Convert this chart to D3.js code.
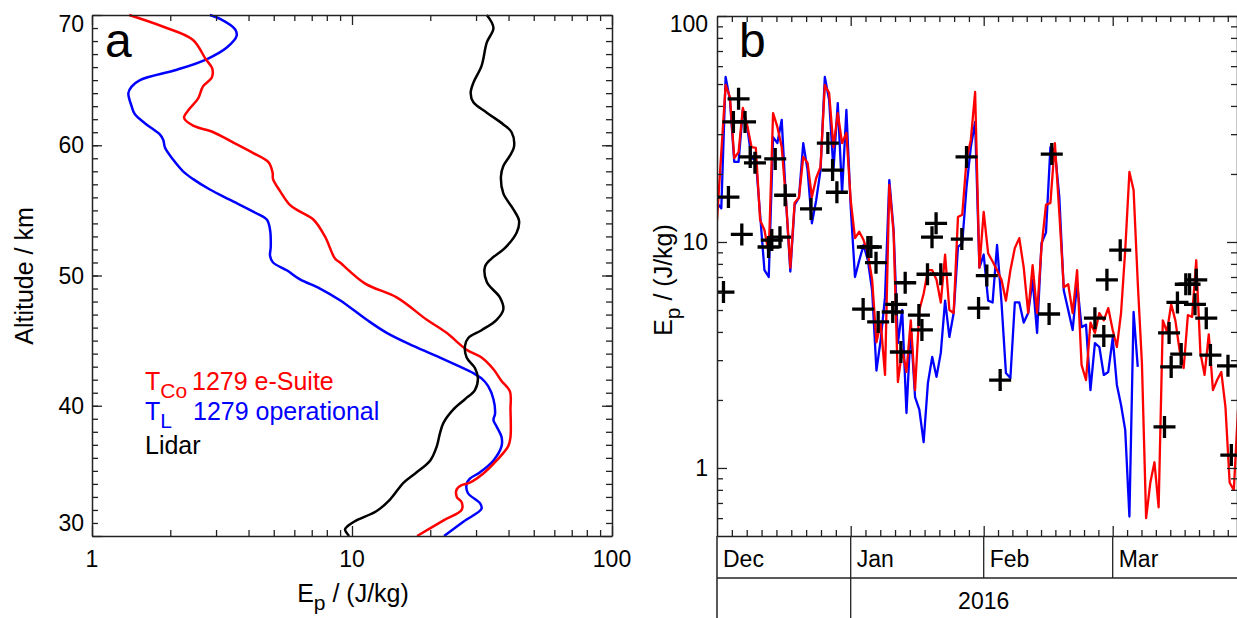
<!DOCTYPE html>
<html>
<head>
<meta charset="utf-8">
<script src="https://cdn.jsdelivr.net/npm/d3@7"></script>
<style>
body { margin: 0; background: #fff; }
svg { display: block; }
text { font-family: 'Liberation Sans', Arial, sans-serif; fill: #000; }
</style>
</head>
<body>
<svg width="1237" height="618"></svg>
<script>
// ---- panel a: profiles (altitude km, Ep J/kg)
const redAlt = [70, 69.1, 68.1, 66.6, 65.9, 65.2, 64.5, 63.6, 62.7, 62.1, 61.5, 61.0, 60.2, 59.4, 58.7, 57.9, 57.4, 56.5, 55.4, 54.9, 54.3, 53.0, 51.3, 51.0, 49.4, 48.3, 46.6, 45.6, 44.3, 43.7, 42.8, 41.9, 41.1, 39.7, 37.6, 36.9, 35.8, 34.8, 34.1, 33.9, 33.6, 33.0, 32.6, 32.0, 31.2, 30.0]
const redEpA = [1.39, 1.88, 2.44, 2.74, 2.90, 2.89, 2.67, 2.56, 2.35, 2.26, 2.45, 2.93, 3.50, 4.17, 4.77, 4.95, 4.97, 5.28, 5.78, 6.31, 7.10, 7.87, 8.60, 8.99, 11.2, 14.9, 19.4, 23.1, 27.6, 31.5, 35.0, 37.6, 40.5, 40.7, 40.7, 39.9, 36.0, 32.0, 28.4, 26.4, 25.3, 25.3, 26.4, 26.4, 22.5, 17.8]
const blueAlt = [70, 69.7, 68.9, 68.4, 67.5, 66.6, 65.8, 65.0, 64.5, 64.0, 63.0, 62.4, 61.6, 60.8, 60.4, 59.8, 58.9, 58.0, 57.4, 56.6, 55.8, 54.9, 54.3, 53.5, 52.2, 51.5, 51.0, 50.4, 49.7, 49.0, 48.1, 46.6, 45.6, 44.6, 43.7, 43.0, 42.5, 42.1, 41.5, 40.5, 39.4, 38.9, 38.4, 37.6, 36.9, 35.8, 34.9, 34.4, 34.0, 33.3, 32.5, 32.1, 31.1, 30.0]
const blueEpA = [2.84, 3.11, 3.55, 3.60, 3.30, 2.76, 2.12, 1.53, 1.42, 1.38, 1.42, 1.46, 1.62, 1.83, 1.88, 1.91, 2.05, 2.24, 2.45, 2.84, 3.40, 4.17, 4.70, 4.84, 4.87, 4.84, 4.97, 5.61, 6.31, 7.53, 8.99, 11.4, 13.6, 17.2, 21.8, 26.0, 29.3, 31.5, 33.4, 35.0, 35.5, 35.0, 36.0, 37.6, 37.6, 35.0, 31.1, 28.4, 27.6, 27.9, 31.1, 31.5, 26.8, 22.6]
const lidarAlt = [70, 69.0, 67.9, 66.1, 64.8, 64.0, 63.3, 62.5, 61.6, 61.0, 59.9, 59.2, 58.4, 57.6, 56.3, 55.1, 54.2, 53.3, 52.1, 51.3, 50.7, 49.5, 48.3, 47.4, 46.6, 45.8, 45.2, 44.6, 43.7, 42.9, 42.1, 41.2, 40.5, 39.7, 38.7, 37.9, 36.9, 35.8, 34.8, 34.1, 32.8, 31.9, 31.2, 30.7, 30.5, 30.0]
const lidarEpA = [33.0, 35.0, 33.0, 31.5, 29.3, 28.6, 29.3, 33.0, 38.2, 41.1, 42.0, 40.5, 38.2, 37.4, 38.2, 41.7, 43.9, 43.0, 38.7, 34.4, 32.5, 33.0, 37.1, 38.2, 36.0, 31.5, 28.0, 27.2, 27.6, 29.7, 30.5, 29.7, 27.2, 24.5, 22.5, 21.8, 21.2, 20.0, 17.5, 15.8, 14.0, 12.4, 10.4, 9.55, 9.4, 9.75]
const altTicks = [30, 40, 50, 60, 70]
const epTicksA = [1, 10, 100]

// ---- panel b: daily series from 1 Dec 2015
const redEp = [12.5, 25, 49.5, 43.8, 23.5, 25.0, 39.2, 32.9, 26.3, 26.1,
  12.5, 11.3, 8.9, 37.2, 32.3, 26.3, 15.3, 7.7, 14.9, 15.7,
  23.8, 22.4, 15.8, 19.2, 21.5, 49.5, 45.6, 26.3, 37.2, 27.4,
  30.4, 15.3, 10.4, 11.1, 10.2, 8.9, 6.8, 3.6, 4.4, 2.58,
  17.9, 11.0, 2.4, 3.33, 2.66, 4.5, 2.21, 5.0, 5.9, 7.5,
  7.5, 6.8, 5.4, 8.8, 5.0, 4.85, 12.9, 13.2, 23.1, 28.3,
  46.1, 7.7, 13.6, 8.9, 8.2, 7.5, 6.8, 5.5, 7.5, 9.4,
  10.4, 7.7, 4.85, 7.9, 4.85, 9.5, 14.6, 14.9, 27.4, 13.4,
  6.3, 6.5, 4.85, 7.5, 2.86, 2.45, 4.4, 3.96, 4.85, 4.5,
  5.1, 4.08, 3.43, 4.85, 9.2, 20.4, 17.0, 6.6, 2.9, 0.60,
  0.86, 1.06, 0.67, 4.5, 4.0, 5.3, 4.5, 3.33, 2.77, 4.75,
  4.66, 8.3, 3.23, 2.58, 3.9, 2.21, 2.45, 2.66, 1.86, 0.86,
  0.80, 1.81]
const blueEp = [14.9, 14.1, 53.7, 42.5, 22.6, 22.6, 38.4, 32.3, 23.5, 23.1,
  13.2, 7.5, 7.0, 29.1, 27.4, 34.7, 15.3, 7.4, 14.6, 15.7,
  27.4, 20.8, 12.1, 15.3, 20.8, 53.7, 42.5, 20.8, 41.2, 16.5,
  38.4, 14.3, 7.0, 8.3, 9.7, 8.3, 6.1, 2.7, 3.7, 5.7,
  18.8, 11.3, 3.57, 5.0, 1.75, 4.2, 2.06, 1.81, 1.30, 2.38,
  3.1, 2.53, 3.23, 5.5, 3.8, 4.85, 9.5, 9.9, 17.5, 26.3,
  34.0, 7.7, 8.8, 5.5, 5.4, 9.7, 5.4, 2.63, 2.5, 5.4,
  5.4, 4.4, 4.85, 6.8, 3.96, 9.9, 11.0, 26.3, 25.5, 15.8,
  6.1, 5.0, 4.08, 6.6, 4.2, 4.3, 2.21, 3.57, 3.43, 2.58,
  2.66, 3.76, 2.33, 1.9, 1.47, 0.61, 4.9, 2.8]
// lidar nights, days since 1 Dec 2015
const lidarDay = [1.5, 2.65, 3.8, 5.0, 6.5, 5.75, 7.7, 8.8, 11.95, 12.7, 14.6, 13.5, 15.8, 21.8, 25.7, 26.8, 27.8,
  35.0, 35.7, 36.9, 33.9, 37.4, 40.8, 41.6, 42.7, 43.7, 46.9, 47.6, 48.9, 49.95, 50.9, 52.0, 56.9, 58.0, 60.8,
  62.7, 65.7, 76.7, 77.3, 87.0, 89.0, 89.7,
  92.8, 103.4, 104.5, 105.0, 106.5, 107.4, 108.5, 109.4, 111.0, 110.7, 113.4, 114.4, 118.6, 119.4]
const lidarEp = [6.0, 15.8, 34.0, 43, 34.0, 10.8, 23.8, 22.4, 9.5, 10.2, 10.5, 23.3, 16.1, 14.0, 27.4, 20.8, 16.6,
  9.5, 9.5, 8.1, 5.05, 4.43, 4.9, 5.3, 3.26, 6.6, 4.75, 4.08, 7.2, 10.5, 12.1, 7.2, 10.3, 23.8, 5.1,
  7.1, 2.45, 4.8, 24.5, 4.6, 3.84, 6.8,
  9.2, 1.52, 3.96, 2.8, 5.4, 3.19, 6.5, 6.5, 6.8, 5.3, 4.6, 3.16, 2.83, 1.14]
const monthNames = ["Dec", "Jan", "Feb", "Mar"]
const yearLabel = "2016"
const epTicksB = [1, 10, 100]

const svg = d3.select("svg")
const minorLog = [0.6, 0.7, 0.8, 0.9, 2, 3, 4, 5, 6, 7, 8, 9, 20, 30, 40, 50, 60, 70, 80, 90]
const t0 = Date.UTC(2015, 11, 1)
const day = d => new Date(t0 + d * 864e5)

function ticks(g, axis, major, minor, tr, scaleDomain) {
	const inDom = v => v >= scaleDomain[0] && v <= scaleDomain[1]
	g.append("g").attr("transform", tr)
		.call(axis.tickValues(major).tickSize(-10).tickSizeOuter(0).tickFormat(""))
	g.append("g").attr("transform", tr)
		.call(axis.tickValues(minor.filter(inDom)).tickSize(-6).tickSizeOuter(0).tickFormat(""))
		.call(s => s.select(".domain").remove())
}
function styleAxes(g) {
	g.selectAll(".domain").attr("stroke", "#222").attr("stroke-width", 1.5)
	g.selectAll(".tick line").attr("stroke", "#222").attr("stroke-width", 1.3)
}

// ================= panel a
const xA = d3.scaleLog().domain([1, 100]).range([92, 612])
const yA = d3.scaleLinear().domain([30, 70]).range([536, 15])
const gA = svg.append("g")
const minorAlt = d3.range(31, 70)

const lineA = d3.line().curve(d3.curveCatmullRom)
const prof = (alts, eps) => lineA(alts.map((a, i) => [xA(eps[i]), yA(a)]))
gA.append("path").attr("d", prof(blueAlt, blueEpA)).attr("fill", "none").attr("stroke", "#0000ff").attr("stroke-width", 2.5)
gA.append("path").attr("d", prof(redAlt, redEpA)).attr("fill", "none").attr("stroke", "#ff0000").attr("stroke-width", 2.5)
gA.append("path").attr("d", prof(lidarAlt, lidarEpA)).attr("fill", "none").attr("stroke", "#000").attr("stroke-width", 2.5)

ticks(gA, d3.axisBottom(xA), epTicksA, minorLog, "translate(0,536)", [1, 100])
ticks(gA, d3.axisTop(xA), epTicksA, minorLog, "translate(0,15)", [1, 100])
ticks(gA, d3.axisLeft(yA), altTicks, minorAlt, "translate(92,0)", [30, 70])
ticks(gA, d3.axisRight(yA), altTicks, minorAlt, "translate(612,0)", [30, 70])
styleAxes(gA)

gA.selectAll(".ylab").data(altTicks).join("text")
	.attr("x", 84).attr("text-anchor", "end").attr("font-size", 23)
	.attr("y", d => yA(d) + (d === 70 ? 17 : d === 30 ? -5 : 8))
	.text(d => d)
gA.selectAll(".xlab").data(epTicksA).join("text")
	.attr("x", d => xA(d)).attr("y", 567).attr("text-anchor", "middle").attr("font-size", 23)
	.text(d => d)

gA.append("text").attr("x", 105).attr("y", 57).attr("font-size", 48).text("a")

const xt = gA.append("text").attr("x", 353).attr("y", 602).attr("text-anchor", "middle").attr("font-size", 25)
xt.append("tspan").text("E")
xt.append("tspan").attr("dy", 8).attr("font-size", 21).text("p")
xt.append("tspan").attr("dy", -8).text(" / (J/kg)")

gA.append("text").attr("transform", "translate(33,276) rotate(-90)").attr("text-anchor", "middle")
	.attr("font-size", 25).text("Altitude / km")

// legend
const leg = gA.append("g").attr("font-size", 25)
const l1 = leg.append("text").attr("x", 145).attr("y", 390).style("fill", "#ff0000")
l1.append("tspan").text("T")
l1.append("tspan").attr("dy", 8).attr("font-size", 21).text("Co")
leg.append("text").attr("x", 192).attr("y", 390).style("fill", "#ff0000").text("1279 e-Suite")
const l2 = leg.append("text").attr("x", 145).attr("y", 420).style("fill", "#0000ff")
l2.append("tspan").text("T")
l2.append("tspan").attr("dy", 8).attr("font-size", 21).text("L")
leg.append("text").attr("x", 193).attr("y", 420).style("fill", "#0000ff").text("1279 operational")
leg.append("text").attr("x", 145).attr("y", 454).text("Lidar")

// ================= panel b
const monthStart = [day(0), day(31), day(62), day(91), day(121)]
const xB = d3.scaleUtc().domain([day(0), day(31), day(62), day(91), day(121)]).range([717, 850.7, 983.7, 1112.7, 1238])
const yB = d3.scaleLog().domain([0.5, 100]).range([536, 16])
const gB = svg.append("g")

svg.append("clipPath").attr("id", "clipB").append("rect").attr("x", 717).attr("y", 16).attr("width", 521).attr("height", 520)

const lineB = d3.line().x((d, i) => xB(day(i))).y(d => yB(d))
gB.append("path").attr("clip-path", "url(#clipB)").attr("d", lineB(blueEp))
	.attr("fill", "none").attr("stroke", "#0000ff").attr("stroke-width", 2.3).attr("stroke-linejoin", "round")
gB.append("path").attr("clip-path", "url(#clipB)").attr("d", lineB(redEp))
	.attr("fill", "none").attr("stroke", "#ff0000").attr("stroke-width", 2.3).attr("stroke-linejoin", "round")

gB.append("g").attr("clip-path", "url(#clipB)").selectAll("path")
	.data(lidarDay.map((d, i) => [xB(day(d)), yB(lidarEp[i])]))
	.join("path")
	.attr("d", d => `M${d[0] - 11},${d[1]}h22M${d[0]},${d[1] - 11}v22`)
	.attr("stroke", "#000").attr("stroke-width", 3.3)

// month minor ticks: 9 equal parts per month
const minorT = []
monthStart.slice(0, 4).forEach((m, i) => {
	const len = (i < 3 ? monthStart[i + 1] - m : 31 * 864e5)
	for (let k = 1; k < 9; k++) minorT.push(new Date(+m + k * len / 9))
})
const majorT = monthStart.slice(1, 4)
ticks(gB, d3.axisBottom(xB), majorT, minorT, "translate(0,536)", [day(0), day(121)])
ticks(gB, d3.axisTop(xB), majorT, minorT, "translate(0,16)", [day(0), day(121)])
ticks(gB, d3.axisLeft(yB), epTicksB, minorLog, "translate(717,0)", [0.5, 100])
ticks(gB, d3.axisRight(yB), epTicksB, minorLog, "translate(1237,0)", [0.5, 100])
styleAxes(gB)

// date band
const band = gB.append("g").attr("stroke", "#222").attr("stroke-width", 1.3)
band.append("line").attr("x1", 717).attr("x2", 1238).attr("y1", 578).attr("y2", 578)
band.append("line").attr("x1", 717).attr("x2", 717).attr("y1", 536).attr("y2", 618).attr("stroke-width", 1.5)
band.selectAll(".msep").data(majorT).join("line")
	.attr("x1", d => xB(d)).attr("x2", d => xB(d)).attr("y1", 536).attr("y2", 578)
band.append("line").attr("x1", xB(day(31))).attr("x2", xB(day(31))).attr("y1", 578).attr("y2", 618)

gB.selectAll(".mlab").data(monthNames).join("text")
	.attr("x", (d, i) => xB(monthStart[i]) + 6).attr("y", 567).attr("font-size", 23)
	.text(d => d)
gB.append("text").attr("x", xB(day(62))).attr("y", 609).attr("text-anchor", "middle")
	.attr("font-size", 23).text(yearLabel)

gB.selectAll(".ylab").data(epTicksB).join("text")
	.attr("x", 708).attr("text-anchor", "end").attr("font-size", 23)
	.attr("y", d => yB(d) + (d === 100 ? 16 : 8))
	.text(d => d)

gB.append("text").attr("x", 739).attr("y", 57).attr("font-size", 48).text("b")

const yt = gB.append("text").attr("transform", "translate(672,280) rotate(-90)").attr("text-anchor", "middle").attr("font-size", 25)
yt.append("tspan").text("E")
yt.append("tspan").attr("dy", 8).attr("font-size", 21).text("p")
yt.append("tspan").attr("dy", -8).text(" / (J/kg)")
</script>
</body>
</html>
